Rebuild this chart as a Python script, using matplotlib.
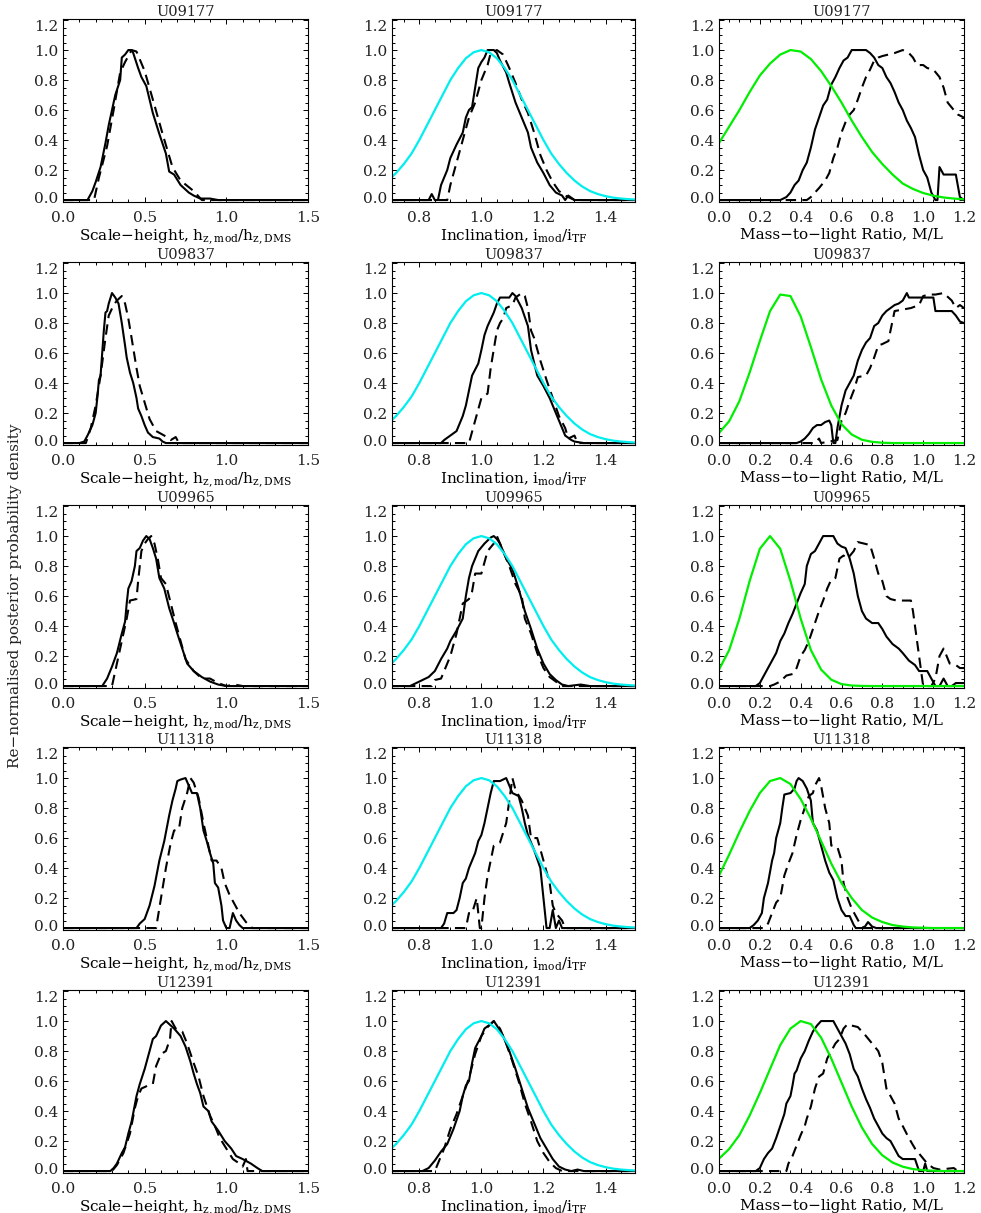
import numpy as np
import matplotlib.pyplot as plt
from matplotlib.ticker import MultipleLocator, FormatStrFormatter
from matplotlib.transforms import ScaledTranslation

galaxies = ['U09177', 'U09837', 'U09965', 'U11318', 'U12391']

# scale-height posteriors, (x, y) pairs
hz_solid_u09177 = [(0, 0), (0.15, 0), (0.18, 0.06), (0.2, 0.12), (0.23, 0.22), (0.26, 0.38), (0.28, 0.5),
                   (0.3, 0.6), (0.32, 0.7), (0.35, 0.8), (0.36, 0.95), (0.38, 0.97), (0.4, 1.0), (0.42, 1.0),
                   (0.43, 0.98), (0.46, 0.88), (0.48, 0.82), (0.51, 0.76), (0.55, 0.58), (0.59, 0.44),
                   (0.63, 0.31), (0.65, 0.19), (0.68, 0.17), (0.72, 0.1), (0.77, 0.05), (0.8, 0.03),
                   (0.84, 0.01), (0.9, 0.01), (0.95, 0), (1.5, 0)]
hz_dashed_u09177 = [(0, 0), (0.19, 0), (0.22, 0.15), (0.27, 0.36), (0.31, 0.6), (0.35, 0.85), (0.38, 0.92),
                    (0.42, 1.0), (0.45, 0.99), (0.5, 0.86), (0.55, 0.67), (0.61, 0.44), (0.67, 0.22),
                    (0.72, 0.13), (0.8, 0.06), (0.85, 0), (1.5, 0)]
hz_solid_u09837 = [(0, 0), (0.1, 0), (0.13, 0.01), (0.15, 0.05), (0.18, 0.12), (0.2, 0.2), (0.21, 0.3),
                   (0.22, 0.42), (0.23, 0.45), (0.24, 0.6), (0.25, 0.75), (0.26, 0.87), (0.27, 0.88),
                   (0.28, 0.93), (0.3, 1.0), (0.32, 0.97), (0.34, 0.93), (0.36, 0.8), (0.38, 0.65),
                   (0.39, 0.57), (0.41, 0.47), (0.43, 0.4), (0.45, 0.3), (0.46, 0.23), (0.48, 0.18),
                   (0.5, 0.12), (0.52, 0.07), (0.55, 0.04), (0.59, 0.03), (0.61, 0.01), (0.63, 0), (1.5, 0)]
hz_dashed_u09837 = [(0, 0), (0.14, 0), (0.17, 0.1), (0.2, 0.25), (0.23, 0.45), (0.26, 0.7), (0.28, 0.85),
                    (0.31, 0.92), (0.33, 0.95), (0.36, 0.98), (0.38, 0.93), (0.4, 0.83), (0.42, 0.7),
                    (0.45, 0.5), (0.47, 0.38), (0.5, 0.27), (0.53, 0.16), (0.57, 0.08), (0.62, 0.05),
                    (0.66, 0.02), (0.69, 0.04), (0.71, 0), (1.5, 0)]
hz_solid_u09965 = [(0, 0), (0.24, 0), (0.27, 0.05), (0.3, 0.13), (0.33, 0.22), (0.36, 0.35), (0.38, 0.43),
                   (0.39, 0.55), (0.4, 0.65), (0.42, 0.7), (0.44, 0.8), (0.45, 0.9), (0.47, 0.92),
                   (0.49, 0.97), (0.51, 1.0), (0.53, 0.98), (0.55, 0.92), (0.57, 0.85), (0.59, 0.72),
                   (0.62, 0.65), (0.65, 0.52), (0.68, 0.42), (0.7, 0.35), (0.73, 0.25), (0.76, 0.15),
                   (0.8, 0.1), (0.85, 0.06), (0.9, 0.03), (0.95, 0.01), (1.0, 0), (1.5, 0)]
hz_dashed_u09965 = [(0, 0), (0.3, 0), (0.33, 0.15), (0.36, 0.3), (0.39, 0.45), (0.41, 0.57), (0.45, 0.58),
                    (0.46, 0.7), (0.48, 0.9), (0.5, 0.95), (0.52, 0.98), (0.54, 1.0), (0.56, 0.95),
                    (0.58, 0.85), (0.6, 0.72), (0.63, 0.68), (0.66, 0.55), (0.69, 0.42), (0.72, 0.3),
                    (0.75, 0.18), (0.8, 0.1), (0.85, 0.05), (0.9, 0.05), (0.95, 0.02), (1.0, 0),
                    (1.05, 0.01), (1.1, 0), (1.5, 0)]
hz_solid_u11318 = [(0, 0), (0.45, 0), (0.47, 0.03), (0.5, 0.06), (0.53, 0.15), (0.56, 0.28), (0.59, 0.45),
                   (0.62, 0.58), (0.65, 0.75), (0.67, 0.85), (0.69, 0.93), (0.7, 0.98), (0.72, 0.99),
                   (0.75, 1.0), (0.77, 0.95), (0.79, 0.9), (0.82, 0.9), (0.84, 0.8), (0.86, 0.65),
                   (0.88, 0.58), (0.9, 0.5), (0.92, 0.43), (0.93, 0.3), (0.95, 0.27), (0.97, 0.15),
                   (0.98, 0.05), (1.0, 0), (1.02, 0), (1.04, 0.1), (1.06, 0.05), (1.08, 0.02), (1.1, 0),
                   (1.5, 0)]
hz_dashed_u11318 = [(0, 0), (0.57, 0), (0.6, 0.2), (0.63, 0.4), (0.66, 0.57), (0.68, 0.65), (0.71, 0.66),
                    (0.73, 0.8), (0.76, 0.9), (0.78, 1.0), (0.8, 0.97), (0.83, 0.87), (0.86, 0.7),
                    (0.89, 0.55), (0.91, 0.45), (0.94, 0.45), (0.97, 0.4), (0.99, 0.3), (1.02, 0.22),
                    (1.05, 0.16), (1.08, 0.1), (1.12, 0.04), (1.16, 0), (1.5, 0)]
hz_solid_u12391 = [(0, 0), (0.29, 0), (0.31, 0.02), (0.33, 0.05), (0.36, 0.12), (0.38, 0.16), (0.4, 0.25),
                   (0.42, 0.33), (0.45, 0.5), (0.47, 0.58), (0.5, 0.68), (0.53, 0.8), (0.55, 0.88),
                   (0.57, 0.9), (0.6, 0.97), (0.63, 1.0), (0.65, 0.98), (0.68, 0.95), (0.72, 0.9),
                   (0.75, 0.83), (0.78, 0.73), (0.8, 0.65), (0.82, 0.58), (0.84, 0.52), (0.86, 0.43),
                   (0.89, 0.4), (0.91, 0.33), (0.95, 0.27), (0.99, 0.2), (1.03, 0.15), (1.06, 0.1),
                   (1.1, 0.08), (1.15, 0.05), (1.19, 0.02), (1.22, 0), (1.5, 0)]
hz_dashed_u12391 = [(0, 0), (0.3, 0), (0.33, 0.04), (0.37, 0.12), (0.41, 0.25), (0.44, 0.42), (0.46, 0.5),
                    (0.48, 0.55), (0.52, 0.57), (0.55, 0.58), (0.57, 0.7), (0.6, 0.78), (0.63, 0.8),
                    (0.655, 0.88), (0.665, 1.0), (0.69, 0.95), (0.73, 0.93), (0.76, 0.85), (0.8, 0.72),
                    (0.83, 0.63), (0.86, 0.5), (0.9, 0.37), (0.93, 0.3), (0.96, 0.22), (1.0, 0.15),
                    (1.04, 0.08), (1.08, 0.05), (1.1, 0.03), (1.12, 0.08), (1.13, 0), (1.5, 0)]

# inclination posteriors
inc_solid_u09177 = [(0.7, 0), (0.83, 0), (0.84, 0.04), (0.85, 0), (0.86, 0), (0.87, 0.1), (0.89, 0.2),
                    (0.9, 0.28), (0.92, 0.37), (0.94, 0.45), (0.95, 0.55), (0.96, 0.6), (0.97, 0.62),
                    (0.98, 0.75), (0.99, 0.88), (1.0, 0.92), (1.01, 0.95), (1.02, 1.0), (1.04, 1.0),
                    (1.05, 0.98), (1.06, 0.93), (1.08, 0.85), (1.09, 0.78), (1.11, 0.65), (1.13, 0.55),
                    (1.15, 0.45), (1.16, 0.35), (1.18, 0.25), (1.2, 0.18), (1.22, 0.1), (1.24, 0.05),
                    (1.26, 0.03), (1.27, 0), (1.28, 0.03), (1.3, 0), (1.5, 0)]
inc_dashed_u09177 = [(0.7, 0), (0.89, 0), (0.9, 0.1), (0.92, 0.25), (0.94, 0.4), (0.96, 0.55), (0.98, 0.65),
                     (1.0, 0.8), (1.02, 0.9), (1.03, 0.98), (1.05, 1.0), (1.07, 0.97), (1.09, 0.88),
                     (1.11, 0.78), (1.13, 0.67), (1.15, 0.58), (1.17, 0.45), (1.19, 0.3), (1.21, 0.2),
                     (1.23, 0.12), (1.25, 0.06), (1.27, 0.03), (1.29, 0.01), (1.3, 0), (1.5, 0)]
inc_solid_u09837 = [(0.7, 0), (0.87, 0), (0.88, 0.02), (0.9, 0.05), (0.92, 0.08), (0.94, 0.18), (0.95, 0.25),
                    (0.96, 0.35), (0.97, 0.45), (0.99, 0.53), (1.0, 0.62), (1.01, 0.72), (1.02, 0.78),
                    (1.04, 0.87), (1.05, 0.93), (1.06, 0.97), (1.09, 0.97), (1.1, 1.0), (1.11, 0.98),
                    (1.13, 0.9), (1.15, 0.78), (1.16, 0.62), (1.18, 0.45), (1.2, 0.38), (1.22, 0.3),
                    (1.24, 0.2), (1.25, 0.15), (1.27, 0.05), (1.29, 0.02), (1.3, 0.01), (1.33, 0), (1.5, 0)]
inc_dashed_u09837 = [(0.7, 0), (0.96, 0), (0.98, 0.15), (1.0, 0.3), (1.02, 0.33), (1.03, 0.5), (1.05, 0.75),
                     (1.06, 0.8), (1.07, 0.83), (1.08, 0.9), (1.1, 0.92), (1.11, 0.97), (1.13, 1.0),
                     (1.14, 0.98), (1.15, 0.9), (1.16, 0.75), (1.17, 0.7), (1.19, 0.55), (1.21, 0.42),
                     (1.23, 0.3), (1.25, 0.18), (1.27, 0.1), (1.28, 0.03), (1.3, 0.05), (1.31, 0), (1.5, 0)]
inc_solid_u09965 = [(0.7, 0), (0.77, 0), (0.79, 0.02), (0.81, 0.04), (0.83, 0.06), (0.85, 0.1), (0.87, 0.18),
                    (0.89, 0.25), (0.9, 0.3), (0.92, 0.37), (0.94, 0.45), (0.95, 0.6), (0.96, 0.72),
                    (0.97, 0.8), (0.99, 0.9), (1.01, 0.95), (1.03, 0.99), (1.04, 1.0), (1.05, 0.98),
                    (1.06, 0.95), (1.08, 0.85), (1.1, 0.78), (1.12, 0.65), (1.14, 0.5), (1.16, 0.38),
                    (1.18, 0.25), (1.2, 0.15), (1.22, 0.08), (1.24, 0.04), (1.26, 0.01), (1.28, 0),
                    (1.32, 0.01), (1.35, 0), (1.5, 0)]
inc_dashed_u09965 = [(0.7, 0), (0.84, 0), (0.85, 0.04), (0.87, 0.05), (0.88, 0.1), (0.9, 0.2), (0.92, 0.35),
                     (0.94, 0.55), (0.96, 0.58), (0.97, 0.63), (0.98, 0.75), (1.0, 0.75), (1.02, 0.9),
                     (1.04, 0.95), (1.05, 1.0), (1.07, 0.9), (1.09, 0.8), (1.11, 0.68), (1.13, 0.6),
                     (1.14, 0.45), (1.16, 0.35), (1.18, 0.22), (1.2, 0.12), (1.22, 0.06), (1.24, 0.03),
                     (1.26, 0), (1.5, 0)]
inc_solid_u11318 = [(0.7, 0), (0.87, 0), (0.88, 0.03), (0.89, 0.1), (0.91, 0.1), (0.92, 0.12), (0.93, 0.2),
                    (0.94, 0.3), (0.95, 0.33), (0.96, 0.4), (0.97, 0.45), (0.98, 0.5), (0.99, 0.58),
                    (1.0, 0.62), (1.01, 0.7), (1.02, 0.8), (1.03, 0.9), (1.04, 0.98), (1.06, 0.98),
                    (1.08, 1.0), (1.09, 0.95), (1.1, 0.9), (1.12, 0.88), (1.13, 0.8), (1.14, 0.7),
                    (1.15, 0.62), (1.17, 0.52), (1.19, 0.4), (1.2, 0.2), (1.21, 0), (1.22, 0), (1.23, 0.12),
                    (1.24, 0), (1.25, 0.05), (1.26, 0), (1.5, 0)]
inc_dashed_u11318 = [(0.7, 0), (0.95, 0), (0.96, 0.1), (0.97, 0.1), (0.985, 0.2), (0.995, 0), (1.0, 0),
                     (1.01, 0.2), (1.02, 0.35), (1.04, 0.55), (1.06, 0.57), (1.08, 0.7), (1.09, 0.85),
                     (1.1, 1.0), (1.11, 0.92), (1.13, 0.85), (1.15, 0.75), (1.16, 0.6), (1.18, 0.6),
                     (1.2, 0.45), (1.22, 0.3), (1.23, 0.15), (1.24, 0.1), (1.26, 0.05), (1.27, 0), (1.5, 0)]
inc_solid_u12391 = [(0.7, 0), (0.81, 0), (0.83, 0.02), (0.85, 0.07), (0.87, 0.13), (0.89, 0.18), (0.91, 0.28),
                    (0.93, 0.4), (0.94, 0.5), (0.95, 0.57), (0.96, 0.6), (0.97, 0.72), (0.98, 0.82),
                    (1.0, 0.9), (1.01, 0.95), (1.03, 0.98), (1.04, 1.0), (1.05, 0.97), (1.07, 0.9),
                    (1.09, 0.8), (1.11, 0.68), (1.13, 0.55), (1.15, 0.42), (1.17, 0.32), (1.19, 0.22),
                    (1.21, 0.15), (1.23, 0.08), (1.25, 0.03), (1.27, 0.01), (1.29, 0), (1.31, 0.01),
                    (1.33, 0), (1.5, 0)]
inc_dashed_u12391 = [(0.7, 0), (0.85, 0), (0.86, 0.05), (0.88, 0.15), (0.9, 0.28), (0.92, 0.38), (0.94, 0.5),
                     (0.96, 0.62), (0.98, 0.78), (1.0, 0.9), (1.02, 0.96), (1.04, 1.0), (1.06, 0.95),
                     (1.08, 0.85), (1.1, 0.73), (1.12, 0.6), (1.14, 0.45), (1.16, 0.33), (1.18, 0.2),
                     (1.2, 0.12), (1.22, 0.06), (1.24, 0.02), (1.26, 0), (1.5, 0)]

# mass-to-light posteriors
ml_solid_u09177 = [(0, 0), (0.3, 0), (0.33, 0.02), (0.35, 0.05), (0.37, 0.1), (0.39, 0.13), (0.41, 0.2),
                   (0.43, 0.25), (0.45, 0.35), (0.47, 0.47), (0.49, 0.55), (0.51, 0.63), (0.53, 0.67),
                   (0.55, 0.77), (0.57, 0.82), (0.59, 0.88), (0.61, 0.93), (0.63, 0.95), (0.65, 1.0),
                   (0.72, 1.0), (0.74, 0.98), (0.76, 0.95), (0.78, 0.9), (0.8, 0.88), (0.82, 0.82),
                   (0.84, 0.78), (0.86, 0.72), (0.88, 0.65), (0.9, 0.6), (0.92, 0.53), (0.94, 0.48),
                   (0.96, 0.42), (0.98, 0.3), (1.0, 0.2), (1.02, 0.15), (1.04, 0.05), (1.06, 0), (1.07, 0),
                   (1.08, 0.22), (1.1, 0.17), (1.16, 0.17), (1.18, 0.02), (1.2, 0)]
ml_dashed_u09177 = [(0, 0), (0.43, 0), (0.45, 0.02), (0.47, 0.05), (0.49, 0.08), (0.52, 0.13), (0.54, 0.18),
                    (0.56, 0.28), (0.58, 0.35), (0.6, 0.45), (0.62, 0.52), (0.64, 0.57), (0.66, 0.6),
                    (0.68, 0.67), (0.7, 0.75), (0.72, 0.82), (0.74, 0.87), (0.76, 0.93), (0.78, 0.95),
                    (0.8, 0.96), (0.83, 0.97), (0.86, 0.98), (0.9, 1.0), (0.93, 0.98), (0.95, 0.95),
                    (0.97, 0.9), (1.0, 0.9), (1.02, 0.88), (1.05, 0.87), (1.08, 0.82), (1.1, 0.75),
                    (1.12, 0.65), (1.15, 0.6), (1.17, 0.57), (1.2, 0.55)]
ml_solid_u09837 = [(0, 0), (0.38, 0), (0.4, 0.01), (0.42, 0.03), (0.44, 0.06), (0.46, 0.1), (0.48, 0.12),
                   (0.5, 0.12), (0.52, 0.14), (0.54, 0.15), (0.55, 0.12), (0.56, 0), (0.57, 0), (0.58, 0.1),
                   (0.6, 0.25), (0.62, 0.35), (0.64, 0.4), (0.66, 0.45), (0.68, 0.55), (0.7, 0.62),
                   (0.72, 0.67), (0.74, 0.7), (0.76, 0.78), (0.78, 0.8), (0.8, 0.85), (0.82, 0.88),
                   (0.84, 0.9), (0.86, 0.92), (0.88, 0.93), (0.9, 0.95), (0.92, 1.0), (0.93, 0.97),
                   (1.05, 0.97), (1.06, 0.88), (1.14, 0.88), (1.16, 0.85), (1.18, 0.81), (1.2, 0.8)]
ml_dashed_u09837 = [(0, 0), (0.47, 0), (0.49, 0.03), (0.5, 0), (0.58, 0.02), (0.6, 0.15), (0.62, 0.2),
                    (0.64, 0.28), (0.66, 0.35), (0.68, 0.44), (0.72, 0.45), (0.74, 0.5), (0.76, 0.57),
                    (0.78, 0.65), (0.8, 0.66), (0.83, 0.68), (0.84, 0.75), (0.86, 0.88), (0.9, 0.89),
                    (0.94, 0.9), (0.98, 0.92), (1.0, 0.98), (1.03, 0.99), (1.06, 0.99), (1.1, 1.0),
                    (1.14, 0.95), (1.16, 0.9), (1.18, 0.92), (1.2, 0.9)]
ml_solid_u09965 = [(0, 0), (0.18, 0), (0.2, 0.02), (0.22, 0.07), (0.24, 0.12), (0.26, 0.17), (0.28, 0.22),
                   (0.3, 0.3), (0.32, 0.35), (0.34, 0.42), (0.36, 0.48), (0.38, 0.55), (0.4, 0.62),
                   (0.42, 0.68), (0.43, 0.8), (0.45, 0.88), (0.47, 0.9), (0.49, 0.95), (0.51, 1.0),
                   (0.56, 1.0), (0.58, 0.95), (0.6, 0.93), (0.62, 0.92), (0.64, 0.85), (0.66, 0.75),
                   (0.68, 0.6), (0.7, 0.5), (0.72, 0.45), (0.75, 0.42), (0.78, 0.42), (0.8, 0.38),
                   (0.82, 0.33), (0.85, 0.28), (0.88, 0.25), (0.9, 0.22), (0.93, 0.17), (0.96, 0.14),
                   (0.98, 0.1), (1.02, 0.1), (1.04, 0.05), (1.06, 0), (1.08, 0), (1.1, 0.05), (1.12, 0),
                   (1.14, 0), (1.16, 0.02), (1.2, 0.02)]
ml_dashed_u09965 = [(0, 0), (0.25, 0), (0.27, 0.01), (0.3, 0.03), (0.33, 0.07), (0.36, 0.08), (0.38, 0.12),
                    (0.4, 0.2), (0.42, 0.24), (0.44, 0.3), (0.47, 0.42), (0.49, 0.5), (0.51, 0.57),
                    (0.53, 0.65), (0.55, 0.71), (0.57, 0.72), (0.59, 0.85), (0.61, 0.87), (0.63, 0.85),
                    (0.66, 0.9), (0.68, 0.96), (0.71, 0.95), (0.74, 0.94), (0.76, 0.85), (0.78, 0.75),
                    (0.8, 0.7), (0.82, 0.6), (0.84, 0.58), (0.87, 0.57), (0.9, 0.57), (0.94, 0.57),
                    (0.95, 0.5), (0.97, 0.3), (0.99, 0.1), (1.0, 0), (1.04, 0), (1.06, 0.05), (1.08, 0.2),
                    (1.1, 0.25), (1.13, 0.15), (1.16, 0.14), (1.18, 0.12), (1.2, 0.12)]
ml_solid_u11318 = [(0, 0), (0.15, 0), (0.17, 0.02), (0.19, 0.05), (0.21, 0.1), (0.22, 0.2), (0.24, 0.3),
                   (0.26, 0.45), (0.27, 0.5), (0.28, 0.6), (0.3, 0.7), (0.31, 0.8), (0.32, 0.89),
                   (0.35, 0.9), (0.37, 0.93), (0.38, 0.98), (0.39, 1.0), (0.41, 0.98), (0.43, 0.93),
                   (0.45, 0.85), (0.46, 0.7), (0.48, 0.65), (0.5, 0.55), (0.52, 0.45), (0.54, 0.37),
                   (0.56, 0.32), (0.58, 0.2), (0.6, 0.12), (0.62, 0.08), (0.64, 0.08), (0.66, 0.02),
                   (0.67, 0), (0.71, 0), (0.73, 0.04), (0.75, 0.01), (0.77, 0), (1.2, 0)]
ml_dashed_u11318 = [(0, 0), (0.22, 0), (0.24, 0.03), (0.26, 0.1), (0.28, 0.17), (0.3, 0.2), (0.32, 0.35),
                    (0.34, 0.43), (0.36, 0.5), (0.38, 0.62), (0.4, 0.72), (0.42, 0.8), (0.44, 0.88),
                    (0.46, 0.9), (0.47, 0.95), (0.49, 1.0), (0.5, 0.95), (0.52, 0.8), (0.54, 0.7),
                    (0.55, 0.55), (0.58, 0.54), (0.6, 0.45), (0.61, 0.3), (0.63, 0.2), (0.65, 0.13),
                    (0.67, 0.08), (0.69, 0.03), (0.71, 0), (1.2, 0)]
ml_solid_u12391 = [(0, 0), (0.18, 0), (0.2, 0.02), (0.22, 0.08), (0.24, 0.12), (0.26, 0.15), (0.28, 0.22),
                   (0.3, 0.3), (0.32, 0.38), (0.33, 0.45), (0.35, 0.5), (0.36, 0.57), (0.37, 0.65),
                   (0.38, 0.67), (0.4, 0.75), (0.42, 0.8), (0.44, 0.87), (0.46, 0.93), (0.48, 0.97),
                   (0.5, 1.0), (0.56, 1.0), (0.58, 0.95), (0.6, 0.9), (0.62, 0.85), (0.64, 0.78),
                   (0.66, 0.68), (0.68, 0.63), (0.7, 0.55), (0.72, 0.48), (0.74, 0.42), (0.76, 0.35),
                   (0.78, 0.3), (0.8, 0.25), (0.82, 0.22), (0.84, 0.2), (0.86, 0.15), (0.88, 0.1),
                   (0.9, 0.08), (0.96, 0.08), (0.98, 0), (1.0, 0), (1.01, 0.05), (1.02, 0), (1.2, 0)]
ml_dashed_u12391 = [(0, 0), (0.33, 0), (0.34, 0.05), (0.36, 0.1), (0.38, 0.17), (0.4, 0.24), (0.42, 0.3),
                    (0.43, 0.35), (0.45, 0.43), (0.47, 0.55), (0.49, 0.63), (0.51, 0.65), (0.53, 0.75),
                    (0.55, 0.8), (0.57, 0.85), (0.59, 0.88), (0.61, 0.95), (0.63, 0.98), (0.65, 0.97),
                    (0.68, 0.96), (0.72, 0.9), (0.75, 0.85), (0.78, 0.8), (0.8, 0.72), (0.82, 0.55),
                    (0.84, 0.5), (0.86, 0.45), (0.88, 0.35), (0.9, 0.3), (0.93, 0.22), (0.96, 0.15),
                    (0.99, 0.1), (1.02, 0.05), (1.05, 0.02), (1.08, 0.01), (1.15, 0.02), (1.17, 0), (1.2, 0)]

# priors (read at regular steps)
inc_prior_x = [0.7, 0.725, 0.75, 0.775, 0.8, 0.825, 0.85, 0.875, 0.9, 0.925, 0.95, 0.975, 1.0,
               1.025, 1.05, 1.075, 1.1, 1.125, 1.15, 1.175, 1.2, 1.225, 1.25, 1.275, 1.3, 1.325,
               1.35, 1.375, 1.4, 1.425, 1.45, 1.475, 1.5]
inc_prior_y = [0.13, 0.18, 0.24, 0.31, 0.40, 0.50, 0.60, 0.70, 0.80, 0.88, 0.945, 0.985, 1.0,
               0.985, 0.945, 0.88, 0.80, 0.70, 0.60, 0.50, 0.40, 0.31, 0.24, 0.18, 0.13, 0.09,
               0.06, 0.04, 0.026, 0.016, 0.01, 0.006, 0.003]

ml_prior_x = [0.0, 0.05, 0.1, 0.15, 0.2, 0.25, 0.3, 0.35, 0.4, 0.45, 0.5, 0.55, 0.6, 0.65, 0.7,
              0.75, 0.8, 0.85, 0.9, 0.95, 1.0, 1.05, 1.1, 1.15, 1.2]
ml_prior_u09177 = [0.38, 0.49, 0.60, 0.72, 0.83, 0.91, 0.97, 1.0, 0.99, 0.94, 0.86, 0.76, 0.65, 0.53, 0.42,
                   0.32, 0.24, 0.17, 0.11, 0.074, 0.047, 0.029, 0.017, 0.01, 0.005]
ml_prior_u09837 = [0.067, 0.146, 0.28, 0.47, 0.68, 0.88, 0.99, 0.98, 0.845, 0.64, 0.425, 0.25, 0.126, 0.057,
                   0.022, 0.008, 0.002, 0, 0, 0, 0, 0, 0, 0, 0]
ml_prior_u09965 = [0.11, 0.24, 0.45, 0.70, 0.915, 1.0, 0.915, 0.70, 0.45, 0.24, 0.11, 0.042, 0.013, 0.0035,
                   0.001, 0, 0, 0, 0, 0, 0, 0, 0, 0, 0]
ml_prior_u11318 = [0.35, 0.49, 0.64, 0.78, 0.90, 0.98, 1.0, 0.96, 0.86, 0.73, 0.58, 0.43, 0.30, 0.20, 0.12,
                   0.07, 0.04, 0.02, 0.01, 0.004, 0.002, 0, 0, 0, 0]
ml_prior_u12391 = [0.083, 0.147, 0.24, 0.37, 0.52, 0.68, 0.84, 0.95, 1.0, 0.98, 0.89, 0.75, 0.59, 0.43, 0.29,
                   0.18, 0.105, 0.057, 0.029, 0.013, 0.006, 0.002, 0, 0, 0]

yticks = [0.0, 0.2, 0.4, 0.6, 0.8, 1.0, 1.2]

hz_curves = [(hz_solid_u09177, hz_dashed_u09177), (hz_solid_u09837, hz_dashed_u09837),
             (hz_solid_u09965, hz_dashed_u09965), (hz_solid_u11318, hz_dashed_u11318),
             (hz_solid_u12391, hz_dashed_u12391)]
inc_curves = [(inc_solid_u09177, inc_dashed_u09177), (inc_solid_u09837, inc_dashed_u09837),
              (inc_solid_u09965, inc_dashed_u09965), (inc_solid_u11318, inc_dashed_u11318),
              (inc_solid_u12391, inc_dashed_u12391)]
ml_curves = [(ml_solid_u09177, ml_dashed_u09177), (ml_solid_u09837, ml_dashed_u09837),
             (ml_solid_u09965, ml_dashed_u09965), (ml_solid_u11318, ml_dashed_u11318),
             (ml_solid_u12391, ml_dashed_u12391)]
ml_priors = [ml_prior_u09177, ml_prior_u09837, ml_prior_u09965, ml_prior_u11318, ml_prior_u12391]

xlabels = ['Scale\u2212height, h$_{\\rm z,mod}$/h$_{\\rm z,DMS}$',
           'Inclination, i$_{\\rm mod}$/i$_{\\rm TF}$',
           'Mass\u2212to\u2212light Ratio, M/L']

plt.rcParams['font.family'] = 'DejaVu Serif'
plt.rcParams['mathtext.fontset'] = 'dejavuserif'
plt.rcParams['font.size'] = 11
plt.rcParams['text.color'] = '#222222'
plt.rcParams['xtick.labelcolor'] = '#222222'
plt.rcParams['ytick.labelcolor'] = '#222222'

# layout in pixels
W, H = 981, 1213
col_left = [63, 392, 719]
col_w = [245, 243, 245]
row_top = [19, 262, 505, 747, 990]
ax_h = 183
xlims = [(0, 1.5), (0.712, 1.495), (0, 1.2)]
xmajor = [0.5, 0.2, 0.2]
xminor = [0.1, 0.05, 0.05]


def draw_curve(ax, pts, dashed=False):
    arr = np.array(pts, dtype=float)
    if dashed:
        ax.plot(arr[:, 0], arr[:, 1], color='black', lw=1.5, ls=(0, (5, 3)))
    else:
        ax.plot(arr[:, 0], arr[:, 1], color='black', lw=1.5)


fig = plt.figure(figsize=(W / 100, H / 100), dpi=100)
up = ScaledTranslation(0, 0.03, fig.dpi_scale_trans)
down = ScaledTranslation(0, -0.05, fig.dpi_scale_trans)

for r, name in enumerate(galaxies):
    for c in range(3):
        ax = fig.add_axes([col_left[c] / W, 1 - (row_top[r] + ax_h) / H, col_w[c] / W, ax_h / H])
        if c == 0:
            solid, dashed = hz_curves[r]
        elif c == 1:
            solid, dashed = inc_curves[r]
        else:
            solid, dashed = ml_curves[r]
        draw_curve(ax, solid)
        draw_curve(ax, dashed, dashed=True)
        if c == 1:
            ax.plot(inc_prior_x, inc_prior_y, color='#00eeee', lw=1.6)
        elif c == 2:
            ax.plot(ml_prior_x, ml_priors[r], color='#00ee00', lw=1.6)

        ax.xaxis.set_major_locator(MultipleLocator(xmajor[c]))
        ax.xaxis.set_minor_locator(MultipleLocator(xminor[c]))
        ax.xaxis.set_major_formatter(FormatStrFormatter('%.1f'))
        ax.set_yticks(yticks, labels=['%.1f' % v for v in yticks])
        ax.yaxis.set_minor_locator(MultipleLocator(0.05))
        ax.set_xlim(*xlims[c])
        ax.set_ylim(-0.013, 1.207)
        ax.tick_params(which='both', direction='in', top=True, right=True, width=0.7)
        ax.tick_params(which='major', length=3.4)
        ax.tick_params(which='minor', length=2.0)
        ax.tick_params(axis='x', pad=6.5)
        ax.tick_params(axis='y', pad=3.5)
        for sp in ax.spines.values():
            sp.set_linewidth(0.8)

        # end labels of the y axis sit inside the frame, as in the original
        yt = ax.yaxis.get_major_ticks()
        yt[0].label1.set_transform(yt[0].label1.get_transform() + up)
        yt[-1].label1.set_transform(yt[-1].label1.get_transform() + down)

        ax.set_title(name, fontsize=10.5, pad=2)
        ax.set_xlabel(xlabels[c], labelpad=2)

fig.text(15 / W, 1 - 596 / H, 'Re\u2212normalised posterior probability density', rotation=90,
         ha='center', va='center', fontsize=11)

fig.savefig('out.png', dpi=100)
